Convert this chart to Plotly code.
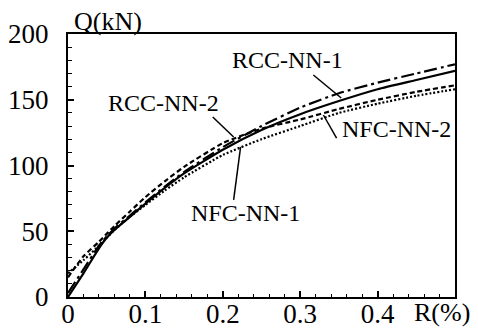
import plotly.graph_objects as go

R = [0, 0.02, 0.04, 0.05, 0.06, 0.08, 0.1, 0.125, 0.15, 0.2, 0.25, 0.3, 0.35, 0.4, 0.45, 0.5]
nfc_nn_1 = [0, 18, 37, 45, 51, 61, 71, 83, 94, 112, 127, 139, 149, 158, 165, 172]
rcc_nn_1 = [3, 21, 39, 46, 52, 62, 72, 84, 95, 114, 130, 144, 155, 163, 170, 177]
rcc_nn_2 = [15, 31, 42, 48, 54, 65, 76, 88, 99, 117, 128, 135, 143, 150, 156, 161]
nfc_nn_2 = [18, 28, 39, 45, 51, 61, 70, 81, 91, 108, 120, 130, 140, 147, 153, 158]

x_ticks = [0, 0.1, 0.2, 0.3, 0.4]
x_tick_labels = ["0", "0.1", "0.2", "0.3", "0.4"]
y_ticks = [0, 50, 100, 150, 200]

FONT = "Liberation Serif"

fig = go.Figure()
series = [
    ("NFC-NN-1", nfc_nn_1, "solid"),
    ("RCC-NN-1", rcc_nn_1, "13px,4px,3px,4px"),
    ("RCC-NN-2", rcc_nn_2, "5px,3px"),
    ("NFC-NN-2", nfc_nn_2, "2px,2px"),
]
for name, ys, dash in series:
    fig.add_trace(go.Scatter(x=R, y=ys, mode="lines", name=name,
                             line=dict(color="black", width=2.2, dash=dash, shape="spline", smoothing=0.5)))

# labels with leader lines
labels = [
    ("RCC-NN-1", 0.283, 180.2, (0.317, 168.8, 0.353, 151.3)),
    ("RCC-NN-2", 0.123, 147.5, (0.187, 136.9, 0.214, 121.7)),
    ("NFC-NN-2", 0.425, 127.8, (0.330, 138.4, 0.347, 120.9)),
    ("NFC-NN-1", 0.229, 63.9, (0.214, 73.8, 0.223, 114.1)),
]
for text, tx, ty, (x0, y0, x1, y1) in labels:
    fig.add_annotation(x=tx, y=ty, text=text, showarrow=False,
                       font=dict(family=FONT, size=24, color="black"))
    fig.add_shape(type="line", x0=x0, y0=y0, x1=x1, y1=y1, xref="x", yref="y",
                  line=dict(color="black", width=1.5))

fig.add_annotation(x=0.052, y=1.0, xref="x", yref="paper", yanchor="bottom", yshift=-4,
                   text="Q(kN)", showarrow=False, font=dict(family=FONT, size=26, color="black"))
fig.add_annotation(x=0.483, y=0, xref="x", yref="paper", yanchor="top", yshift=1,
                   text="R(%)", showarrow=False, font=dict(family=FONT, size=26, color="black"))

fig.update_layout(
    width=478, height=331,
    margin=dict(l=68, r=23, t=34, b=34),
    plot_bgcolor="white", paper_bgcolor="white",
    showlegend=False,
    font=dict(family=FONT, color="black"),
)
fig.update_xaxes(range=[0, 0.5], tickvals=x_ticks, ticktext=x_tick_labels,
                 ticks="inside", ticklen=6, tickwidth=1.5, tickcolor="black",
                 minor=dict(dtick=0.02, ticks="inside", ticklen=3, tickwidth=1.2, tickcolor="black"),
                 showline=True, linecolor="black", linewidth=2, mirror=True,
                 showgrid=False, zeroline=False, ticklabelstandoff=-8, automargin=False,
                 tickfont=dict(family=FONT, size=27, color="black"))
fig.update_yaxes(range=[0, 200], tickvals=y_ticks,
                 ticks="inside", ticklen=6, tickwidth=1.5, tickcolor="black",
                 minor=dict(dtick=10, ticks="inside", ticklen=4, tickwidth=1.2, tickcolor="black"),
                 showline=True, linecolor="black", linewidth=2, mirror=True,
                 showgrid=False, zeroline=False, ticklabelstandoff=12, automargin=False,
                 tickfont=dict(family=FONT, size=27, color="black"))

fig.write_html("out.html")
